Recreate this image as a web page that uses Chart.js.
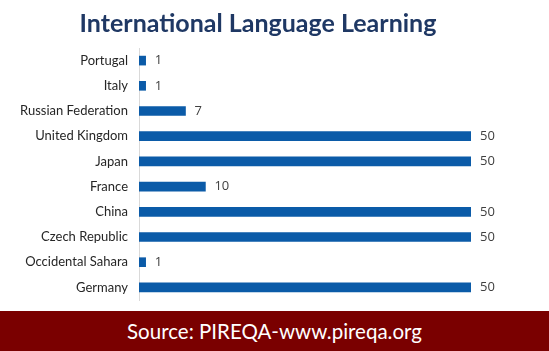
<!DOCTYPE html>
<html>
<head>
<meta charset="utf-8">
<script src="https://cdn.jsdelivr.net/npm/chart.js@4/dist/chart.umd.min.js"></script>
<style>
  html, body { margin: 0; padding: 0; background: #ffffff; }
  #wrap { width: 549px; height: 351px; position: relative; overflow: hidden; }
  #cv { display: block; position: absolute; left: 0; top: 0; }
  #title {
    position: absolute; left: 0; top: 6px; width: 516px; text-align: center;
    font-family: Lato, "Open Sans", sans-serif; font-weight: bold; font-size: 25px;
    line-height: 32px; color: #1f3864; white-space: nowrap;
  }
  #footer {
    position: absolute; left: 0; top: 311px; width: 549px; height: 40px;
    background: #7a0000; color: #ffffff; text-align: center;
    font-family: Lato, "Open Sans", sans-serif; font-size: 20.5px; line-height: 40px;
  }
</style>
</head>
<body>
<div id="wrap">
  <canvas id="cv" width="549" height="311"></canvas>
  <div id="title"></div>
  <div id="footer">Source: PIREQA-www.pireqa.org</div>
</div>
<script>
const categories = ["Portugal", "Italy", "Russian Federation", "United Kingdom", "Japan", "France", "China", "Czech Republic", "Occidental Sahara", "Germany"];
const values = [1, 1, 7, 50, 50, 10, 50, 50, 1, 50];
const chartTitle = "International Language Learning";

document.getElementById('title').textContent = chartTitle;

const valueLabels = {
  id: 'valueLabels',
  afterDatasetsDraw(chart) {
    const ctx = chart.ctx;
    const meta = chart.getDatasetMeta(0);
    ctx.save();
    ctx.font = '13px "Open Sans", sans-serif';
    ctx.fillStyle = '#404040';
    ctx.textAlign = 'left';
    ctx.textBaseline = 'middle';
    meta.data.forEach((bar, i) => {
      ctx.fillText(String(values[i]), bar.x + 9, bar.y);
    });
    ctx.restore();
  }
};

new Chart(document.getElementById('cv'), {
  type: 'bar',
  data: {
    labels: categories,
    datasets: [{
      data: values,
      backgroundColor: '#0b5ba8',
      barThickness: 9
    }]
  },
  options: {
    indexAxis: 'y',
    responsive: false,
    animation: false,
    layout: { padding: { left: 0, right: 78, top: 48, bottom: 11 } },
    plugins: {
      legend: { display: false },
      tooltip: { enabled: false },
      title: { display: false }
    },
    scales: {
      x: {
        display: false,
        min: 0,
        max: 50
      },
      y: {
        afterFit(scale) {
          scale.width = 139;
          scale.paddingTop = 0;
          scale.paddingBottom = 0;
        },
        grid: { display: false, drawTicks: false },
        border: { display: true, color: '#d9d9d9', width: 1 },
        ticks: {
          color: '#262626',
          padding: 11,
          font: { family: 'Lato, "Open Sans", sans-serif', size: 13 }
        }
      }
    }
  },
  plugins: [valueLabels]
});
</script>
</body>
</html>
